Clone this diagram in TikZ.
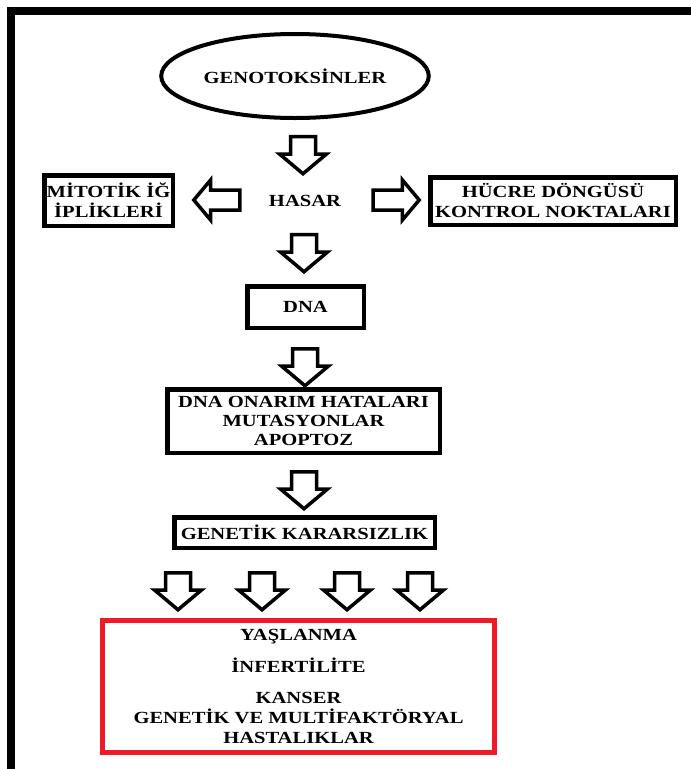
\documentclass[tikz,border=0pt]{standalone}
\usepackage{fontspec}
\setmainfont{Liberation Serif}[FakeStretch=1.21]
\usetikzlibrary{shapes.geometric, shapes.arrows}
\definecolor{boxred}{RGB}{237,28,36}

\begin{document}
\begin{tikzpicture}[x=1pt, y=-1pt,
  every node/.style={font=\fontsize{17}{20}\selectfont\bfseries, align=center},
  box/.style={rectangle, draw, line width=4.5pt, inner sep=0pt},
  downarr/.style={single arrow, draw, line width=3.5pt, inner xsep=0pt,
    inner ysep=10.75pt, single arrow head extend=11pt,
    single arrow tip angle=100, minimum height=37pt, rotate=-90},
  sidearr/.style={single arrow, draw, line width=3.5pt, inner xsep=0pt,
    inner ysep=8.25pt, single arrow head extend=10pt,
    single arrow tip angle=100, minimum height=46pt}]
  \useasboundingbox (0, 0) rectangle (691, 769);
  % \draw[help lines, step=50] (0,0) grid (691, 769);
  \draw[line width=8pt] (691, 11) -- (11, 11) -- (11, 769);

  \node at (295, 76) [ellipse, draw, line width=4pt, minimum width=262pt,
  minimum height=84pt] (gen) {GENOTOKSİNLER};
  \node at (305, 201) (hasar) {HASAR};
  \node at (108.5, 200.5) [box, minimum width=128.5pt, minimum height=50.5pt]
  (mit) {MİTOTİK İĞ\\ İPLİKLERİ};
  \node at (553, 201) [box, minimum width=245.5pt, minimum height=47.5pt]
  (hcr) {HÜCRE DÖNGÜSÜ\\ KONTROL NOKTALARI};
  \node at (305.5, 307) [box, minimum width=116.5pt, minimum height=41.5pt]
  (dna) {DNA};
  \node at (303.5, 421) [box, minimum width=272.5pt, minimum height=63.5pt]
  (onr) {DNA ONARIM HATALARI\\[-1pt] MUTASYONLAR\\[-1pt] APOPTOZ};
  \node at (304.5, 532.5) [box, minimum width=260.5pt, minimum height=30.5pt]
  (ins) {GENETİK KARARSIZLIK};
  \node at (298.5, 686.5) [rectangle, draw=boxred, line width=5pt, inner sep=0pt,
  minimum width=392pt, minimum height=132pt]
  (hst) {YAŞLANMA\\[12pt] İNFERTİLİTE\\[11pt] KANSER\\ GENETİK VE MULTİFAKTÖRYAL\\ HASTALIKLAR};

  % block arrows between the boxes
  \node at (303, 150) [downarr] (a1) {};
  \node at (221, 200) [sidearr, rotate=180] (al) {};
  \node at (392, 200) [sidearr] (ar) {};
  \node at (304, 248) [downarr] (a2) {};
  \node at (305, 362) [downarr] (a3) {};
  \node at (304, 485) [downarr] (a4) {};
  \foreach \x [count=\i] in {178, 262, 347, 420}
    \node at (\x, 586) [downarr] (b\i) {};
\end{tikzpicture}
\end{document}
